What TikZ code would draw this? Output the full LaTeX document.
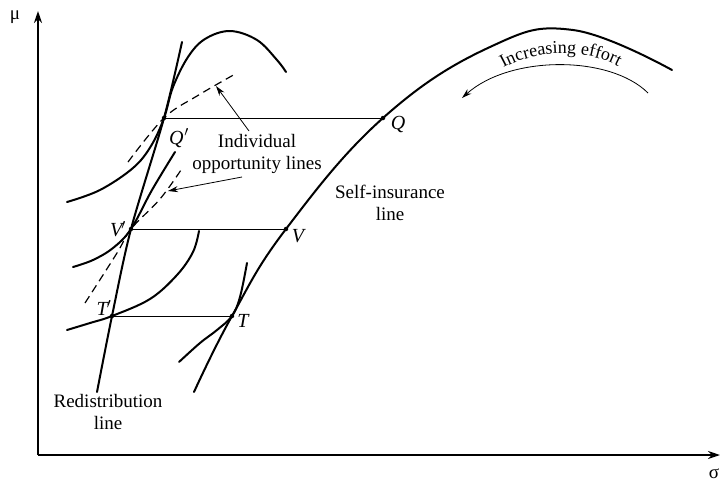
\documentclass[tikz,border=0pt]{standalone}
\usepackage{fontspec}
\setmainfont{Liberation Serif}
\usetikzlibrary{arrows.meta,decorations.text}
\begin{document}
\begin{tikzpicture}[x=1pt,y=-1pt,
  curve/.style={line width=2pt, line cap=round, line join=round},
  thinline/.style={line width=0.8pt},
  dashline/.style={line width=1.2pt, dash pattern=on 8pt off 5pt},
  dot/.style={circle, fill, inner sep=0pt, minimum size=4.5pt},
  lab/.style={font=\rmfamily\fontsize{20}{24}\selectfont\itshape, inner sep=0pt},
  txt/.style={font=\rmfamily\fontsize{19}{22}\selectfont, align=center, inner sep=0pt},
  pointer/.style={line width=0.8pt, -{Stealth[length=10pt,width=6pt]}},
  axis/.style={line width=2pt, -{Stealth[length=12pt,width=8pt]}}]
\useasboundingbox (0,0) rectangle (721,483);

% axes
\coordinate (O) at (38,455);
\coordinate (Ytop) at (38,11);
\coordinate (Xend) at (720,455);
\draw[axis] (O) -- (Ytop);
\draw[axis] (O) -- (Xend);
\node[font=\rmfamily\fontsize{19}{22}\selectfont, inner sep=0pt] (mu) at (15,17) {μ};
\node[font=\rmfamily\fontsize{19}{22}\selectfont, inner sep=0pt] (sigma) at (714,474) {σ};

% points
\node[dot] (Qp) at (164,118) {};
\node[dot] (Q)  at (383,118) {};
\node[dot] (Vp) at (131,229) {};
\node[dot] (V)  at (286,229) {};
\node[dot] (Tp) at (112,316) {};
\node[dot] (T)  at (232,316) {};

% horizontal connectors
\draw[thinline] (Qp) -- (Q);
\draw[thinline] (Vp) -- (V);
\draw[thinline] (Tp) -- (T);

% self-insurance line
\draw[curve] plot[smooth, tension=0.7] coordinates {(194,392) (T.center) (V.center) (Q.center) (490,47) (573,30) (672,70)};

% redistribution line
\draw[curve] plot[smooth, tension=0.5] coordinates {(97,392) (Tp.center) (Vp.center) (Qp.center) (182,42)};

% indifference curve + opportunity hump at Q'
\draw[curve] plot[smooth, tension=0.6] coordinates {(67,202) (100,190) (133,168) (151,146) (Qp.center) (173,87) (188,57) (205,39) (230,31) (257,40) (277,60) (286,72)};
\draw[dashline] plot[smooth, tension=0.6] coordinates {(128,162) (Qp.center) (197,96) (237,73)};

% curves at V'
\draw[curve] plot[smooth, tension=0.6] coordinates {(73,267) (93,260) (113,248) (Vp.center) (152,190) (175,152)};
\draw[dashline] plot[smooth, tension=0.6] coordinates {(85,303) (117,253) (Vp.center) (160,199) (181,170)};

% curve at T'
\draw[curve] plot[smooth, tension=0.6] coordinates {(67,330) (90,323) (Tp.center) (150,299) (177,275) (193,252) (199,231)};

% curve at T
\draw[curve] plot[smooth, tension=0.6] coordinates {(179,362) (200,343) (217,330) (T.center) (240,297) (247,263)};

% labels
\node[lab] (lQp) at (179,138) {Q\kern1pt$'$};
\node[lab] (lQ)  at (398,124) {Q};
\node[lab] (lVp) at (118,229) {V\kern-1pt$'$};
\node[lab] (lV)  at (298,236) {V};
\node[lab] (lTp) at (104,308) {T\kern-1pt$'$};
\node[lab] (lT)  at (243,321) {T};

\node[txt] (indiv) at (257,154) {Individual\\opportunity lines};
\coordinate (tipA) at (216,86);
\coordinate (tipB) at (168,191);
\coordinate (startA) at (249,131);
\coordinate (startB) at (242,177);
\draw[pointer] (startA) -- (tipA);
\draw[pointer] (startB) -- (tipB);

\node[txt] (self) at (390,203) {Self-insurance\\line};
\node[txt] (redis) at (108,412) {Redistribution\\line};

% increasing effort
\coordinate (effA) at (648,93);
\coordinate (effB) at (462,98);
\draw[thinline, -{Stealth[length=10pt,width=6pt]}] (effA) .. controls (610,55) and (510,55) .. (effB);
\path[decorate, decoration={text along path, text align=center,
  text={|\rmfamily\fontsize{18}{20}\selectfont|Increasing effort}}]
  (490,77) .. controls (528,46) and (595,46) .. (632,75);
\end{tikzpicture}
\end{document}
